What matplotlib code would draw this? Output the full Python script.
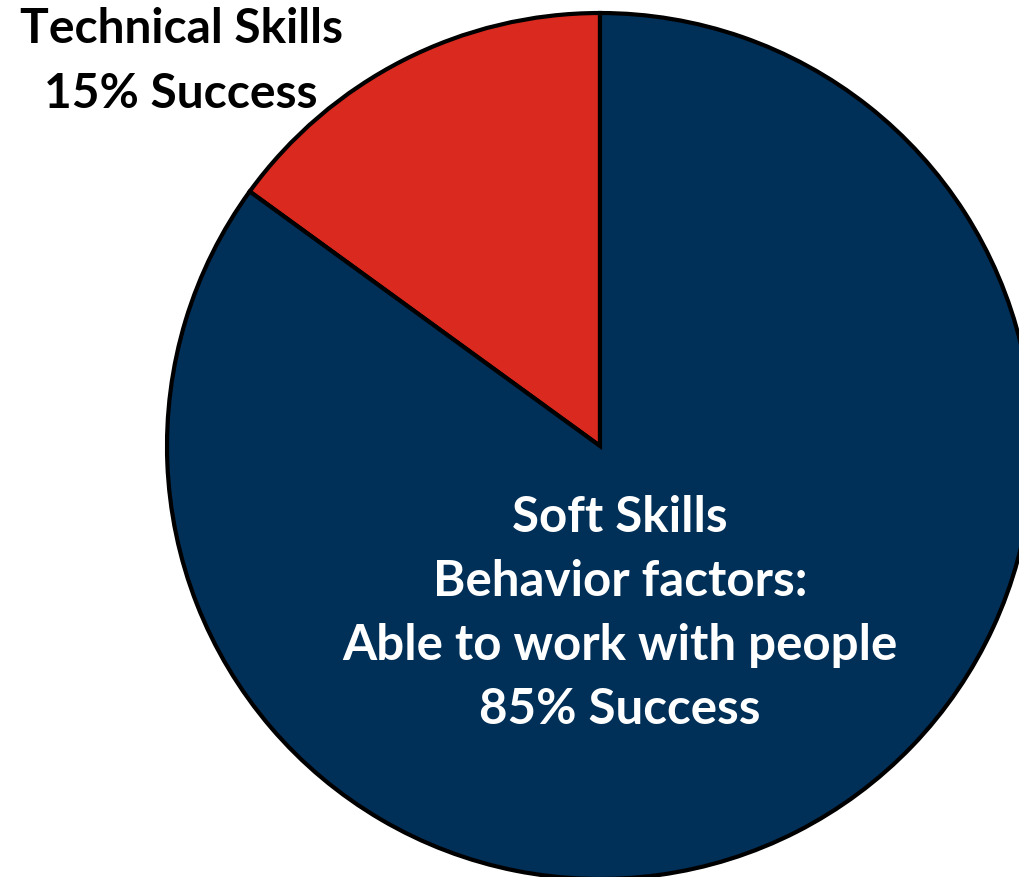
import matplotlib
matplotlib.use("Agg")
import matplotlib.pyplot as plt

# Share of success attributed to each skill group
categories = ["Technical Skills", "Soft Skills"]
shares = [15, 85]
colors = ["#DA291E", "#002F57"]

tech_lines = ["Technical Skills", "15% Success"]
soft_lines = ["Soft Skills", "Behavior factors:", "Able to work with people", "85% Success"]

W, H = 1019, 878
fig = plt.figure(figsize=(W / 100, H / 100), dpi=100)
ax = fig.add_axes([0, 0, 1, 1])

cx, cy, r = 600, H - 447, 433
ax.pie(shares, colors=colors, startangle=90, counterclock=True,
       center=(cx, cy), radius=r, frame=True,
       wedgeprops=dict(edgecolor="black", linewidth=3))
ax.set_xlim(0, W)
ax.set_ylim(0, H)
ax.set_aspect("equal")
ax.axis("off")

font = dict(family=["Lato", "DejaVu Sans"], fontweight="bold",
            ha="center", va="center")

for i, line in enumerate(tech_lines):
    ax.text(181, H - (29 + 65 * i), line, color="black", fontsize=34.5, **font)

for i, line in enumerate(soft_lines):
    ax.text(620, H - (518 + 64 * i), line, color="white", fontsize=35.5, **font)

fig.savefig("out.png", dpi=100)
